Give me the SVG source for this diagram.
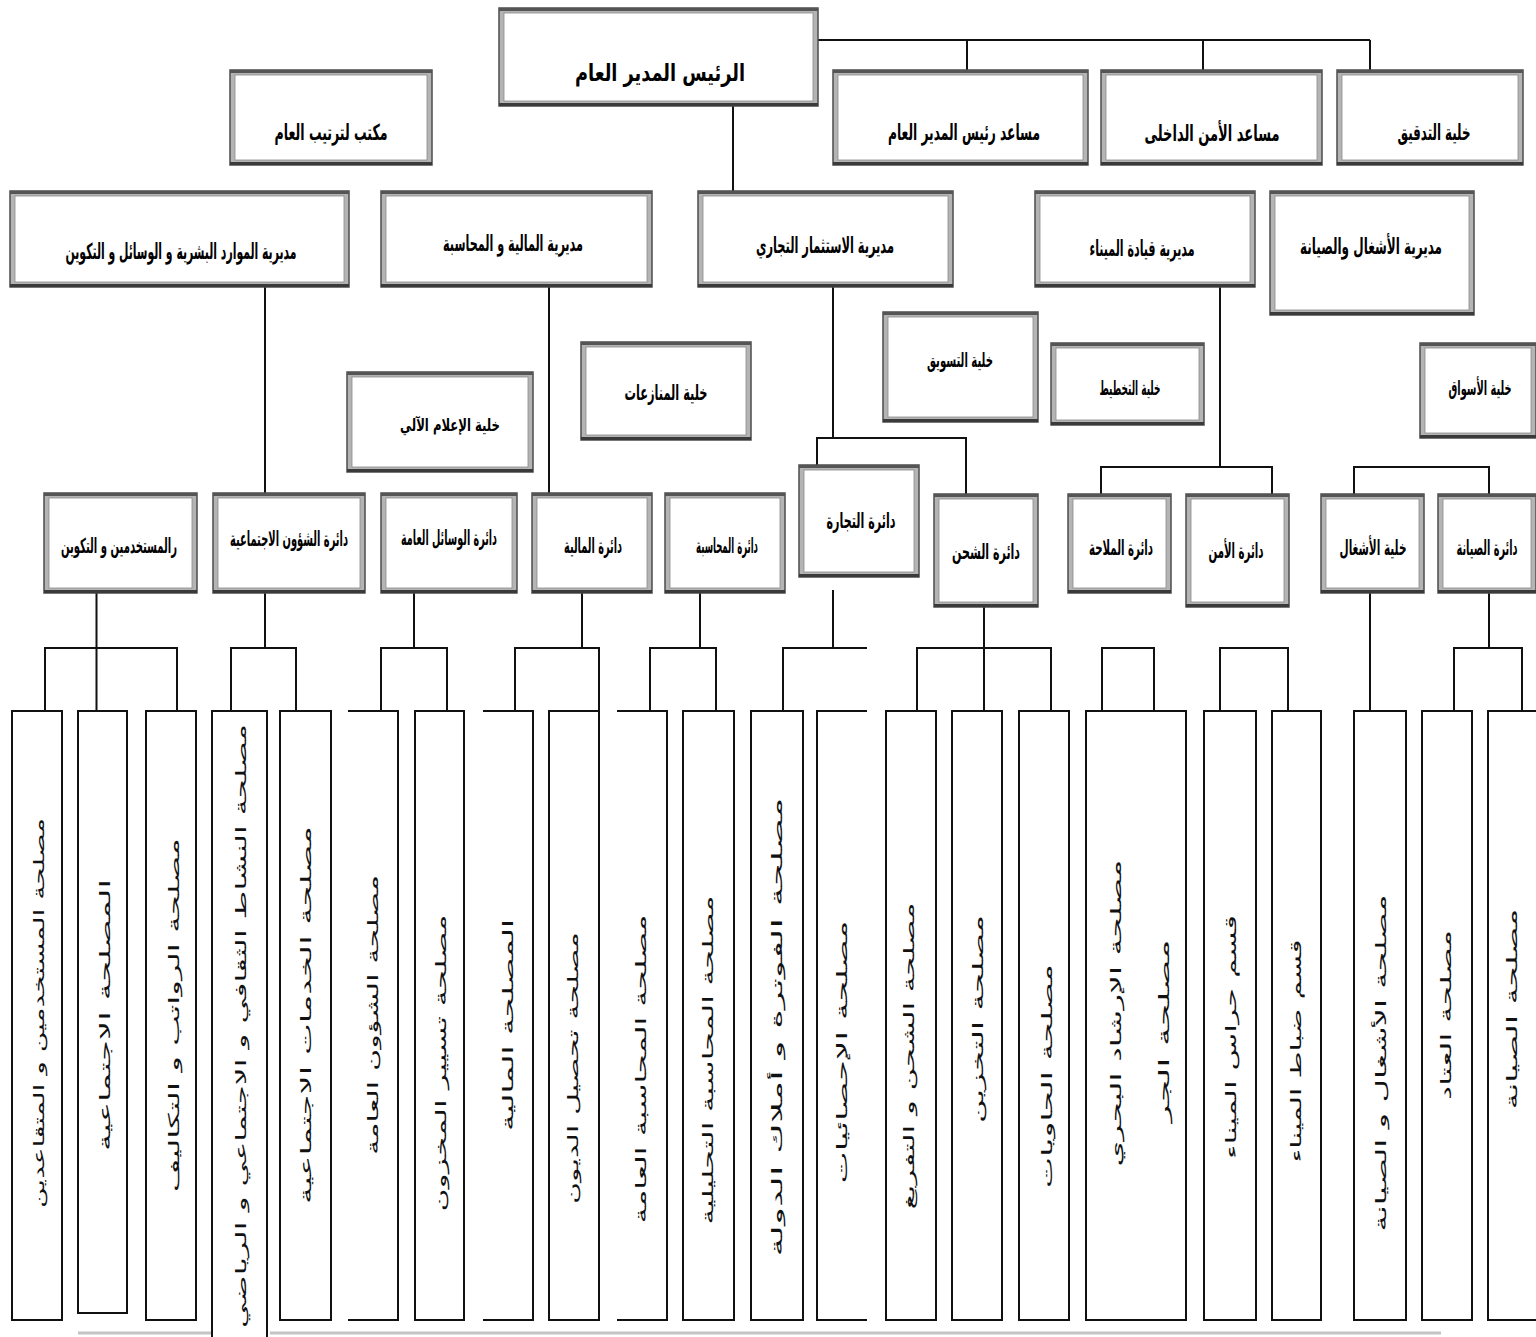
<svg xmlns="http://www.w3.org/2000/svg" width="1536" height="1337" viewBox="0 0 1536 1337">
<defs>
<style>
.fr{fill:#fff;stroke:#b4b4b4;stroke-width:5}
.ol{fill:none;stroke:#4c4c4c;stroke-width:1.5}
.il{fill:none;stroke:#8a8a8a;stroke-width:0.8}
.tb{fill:#555}
.bb{fill:#3a3a3a}
.t{font-family:'DejaVu Sans',sans-serif;font-weight:bold;fill:#000;text-anchor:middle}
.v{font-family:'DejaVu Sans',sans-serif;font-size:15px;fill:#111;text-anchor:middle}
.sb{fill:#fff;stroke:#111;stroke-width:2}
.sl{fill:none;stroke:#111;stroke-width:2}
.c{fill:none;stroke:#111;stroke-width:2}
</style>
</defs>
<rect width="1536" height="1337" fill="#fff"/>

<g id="connectors">
<path class="c" d="M818 40 H1370 M967 40 V70 M1203 40 V70 M1370 40 V70"/>
<path class="c" d="M733 106 V191"/>
<path class="c" d="M265 287 V493 M549 287 V493"/>
<path class="c" d="M833 287 V438 M817 465 V438 H966 V494"/>
<path class="c" d="M1220 287 V467 M1101 494 V467 H1272 V494"/>
<path class="c" d="M1354 494 V467 H1489 V494"/>
<path class="c" d="M96.5 593 V711 M45 711 V648 H177 V711"/>
<path class="c" d="M265 593 V648 M231 711 V648 H296 V711"/>
<path class="c" d="M414 593 V648 M381 711 V648 H447 V711"/>
<path class="c" d="M582 593 V648 M515 711 V648 H599 V711"/>
<path class="c" d="M700 593 V648 M650 711 V648 H716 V711"/>
<path class="c" d="M833 590 V648 M783 711 V648 H867"/>
<path class="c" d="M984 607 V711 M917 711 V648 H1051 V711"/>
<path class="c" d="M1102 711 V648 H1154 V711"/>
<path class="c" d="M1220 711 V648 H1288 V711"/>
<path class="c" d="M1370 593 V711"/>
<path class="c" d="M1489 593 V648 M1454 711 V648 H1522 V711"/>
</g>

<g id="president"><rect class="fr" x="501.5" y="10.5" width="314" height="93"/><rect class="il" x="504" y="13" width="309" height="88"/><rect class="ol" x="499" y="8" width="319" height="98"/><rect class="tb" x="499" y="8" width="319" height="3"/><rect class="bb" x="499" y="103" width="319" height="3"/><text class="t" transform="translate(660 81) scale(1 1.4)" font-size="17" textLength="170" lengthAdjust="spacingAndGlyphs">الرئيس المدير العام</text></g>
<g id="maktab"><rect class="fr" x="232.5" y="72.5" width="197" height="90"/><rect class="il" x="235" y="75" width="192" height="85"/><rect class="ol" x="230" y="70" width="202" height="95"/><rect class="tb" x="230" y="70" width="202" height="3"/><rect class="bb" x="230" y="162" width="202" height="3"/><text class="t" transform="translate(331 140) scale(1 1.7)" font-size="13" textLength="113" lengthAdjust="spacingAndGlyphs">مكتب لترتيب العام</text></g>
<g id="asst-dg"><rect class="fr" x="835.5" y="72.5" width="250" height="90"/><rect class="il" x="838" y="75" width="245" height="85"/><rect class="ol" x="833" y="70" width="255" height="95"/><rect class="tb" x="833" y="70" width="255" height="3"/><rect class="bb" x="833" y="162" width="255" height="3"/><text class="t" transform="translate(964 140) scale(1 1.7)" font-size="13" textLength="152" lengthAdjust="spacingAndGlyphs">مساعد رئيس المدير العام</text></g>
<g id="asst-sec"><rect class="fr" x="1103.5" y="72.5" width="216" height="90"/><rect class="il" x="1106" y="75" width="211" height="85"/><rect class="ol" x="1101" y="70" width="221" height="95"/><rect class="tb" x="1101" y="70" width="221" height="3"/><rect class="bb" x="1101" y="162" width="221" height="3"/><text class="t" transform="translate(1212 141) scale(1 1.57)" font-size="14" textLength="135" lengthAdjust="spacingAndGlyphs">مساعد الأمن الداخلى</text></g>
<g id="audit"><rect class="fr" x="1339.5" y="72.5" width="181" height="90"/><rect class="il" x="1342" y="75" width="176" height="85"/><rect class="ol" x="1337" y="70" width="186" height="95"/><rect class="tb" x="1337" y="70" width="186" height="3"/><rect class="bb" x="1337" y="162" width="186" height="3"/><text class="t" transform="translate(1434 140) scale(1 1.83)" font-size="12" textLength="73" lengthAdjust="spacingAndGlyphs">خلية التدقيق</text></g>

<g id="dir-hr"><rect class="fr" x="12.5" y="193.5" width="334" height="91"/><rect class="il" x="15" y="196" width="329" height="86"/><rect class="ol" x="10" y="191" width="339" height="96"/><rect class="tb" x="10" y="191" width="339" height="3"/><rect class="bb" x="10" y="284" width="339" height="3"/><text class="t" transform="translate(181 259) scale(1 2.1)" font-size="10.5" textLength="231" lengthAdjust="spacingAndGlyphs">مديرية الموارد البشرية و الوسائل و التكوين</text></g>
<g id="dir-fin"><rect class="fr" x="383.5" y="193.5" width="266" height="91"/><rect class="il" x="386" y="196" width="261" height="86"/><rect class="ol" x="381" y="191" width="271" height="96"/><rect class="tb" x="381" y="191" width="271" height="3"/><rect class="bb" x="381" y="284" width="271" height="3"/><text class="t" transform="translate(513 251) scale(1 2)" font-size="11" textLength="140" lengthAdjust="spacingAndGlyphs">مديرية المالية و المحاسبة</text></g>
<g id="dir-inv"><rect class="fr" x="700.5" y="193.5" width="250" height="91"/><rect class="il" x="703" y="196" width="245" height="86"/><rect class="ol" x="698" y="191" width="255" height="96"/><rect class="tb" x="698" y="191" width="255" height="3"/><rect class="bb" x="698" y="284" width="255" height="3"/><text class="t" transform="translate(825 253) scale(1 1.9)" font-size="11.5" textLength="138" lengthAdjust="spacingAndGlyphs">مديرية الاستثمار التجاري</text></g>
<g id="dir-port"><rect class="fr" x="1037.5" y="193.5" width="215" height="91"/><rect class="il" x="1040" y="196" width="210" height="86"/><rect class="ol" x="1035" y="191" width="220" height="96"/><rect class="tb" x="1035" y="191" width="220" height="3"/><rect class="bb" x="1035" y="284" width="220" height="3"/><text class="t" transform="translate(1142 256) scale(1 2.1)" font-size="10.5" textLength="105" lengthAdjust="spacingAndGlyphs">مديرية قيادة الميناء</text></g>
<g id="dir-works"><rect class="fr" x="1272.5" y="193.5" width="199" height="119"/><rect class="il" x="1275" y="196" width="194" height="114"/><rect class="ol" x="1270" y="191" width="204" height="124"/><rect class="tb" x="1270" y="191" width="204" height="3"/><rect class="bb" x="1270" y="312" width="204" height="3"/><text class="t" transform="translate(1371 254) scale(1 1.83)" font-size="12" textLength="142" lengthAdjust="spacingAndGlyphs">مديرية الأشغال والصيانة</text></g>

<g id="cell-it"><rect class="fr" x="349.5" y="374.5" width="181" height="95"/><rect class="il" x="352" y="377" width="176" height="90"/><rect class="ol" x="347" y="372" width="186" height="100"/><rect class="tb" x="347" y="372" width="186" height="3"/><rect class="bb" x="347" y="469" width="186" height="3"/><text class="t" transform="translate(450 431) scale(1 1.55)" font-size="11" textLength="100" lengthAdjust="spacingAndGlyphs">خلية الإعلام الآلي</text></g>
<g id="cell-litig"><rect class="fr" x="583.5" y="344.5" width="165" height="93"/><rect class="il" x="586" y="347" width="160" height="88"/><rect class="ol" x="581" y="342" width="170" height="98"/><rect class="tb" x="581" y="342" width="170" height="3"/><rect class="bb" x="581" y="437" width="170" height="3"/><text class="t" transform="translate(666 400) scale(1 1.83)" font-size="11.5" textLength="83" lengthAdjust="spacingAndGlyphs">خلية المنازعات</text></g>
<g id="cell-mkt"><rect class="fr" x="885.5" y="314.5" width="150" height="105"/><rect class="il" x="888" y="317" width="145" height="100"/><rect class="ol" x="883" y="312" width="155" height="110"/><rect class="tb" x="883" y="312" width="155" height="3"/><rect class="bb" x="883" y="419" width="155" height="3"/><text class="t" transform="translate(960 367) scale(1 1.8)" font-size="11" textLength="66" lengthAdjust="spacingAndGlyphs">خلية التسويق</text></g>
<g id="cell-plan"><rect class="fr" x="1053.5" y="345.5" width="148" height="77"/><rect class="il" x="1056" y="348" width="143" height="72"/><rect class="ol" x="1051" y="343" width="153" height="82"/><rect class="tb" x="1051" y="343" width="153" height="3"/><rect class="bb" x="1051" y="422" width="153" height="3"/><text class="t" transform="translate(1130 395) scale(1 2)" font-size="10" textLength="61" lengthAdjust="spacingAndGlyphs">خلية التخطيط</text></g>
<g id="cell-markets"><rect class="fr" x="1422.5" y="345.5" width="111" height="90"/><rect class="il" x="1425" y="348" width="106" height="85"/><rect class="ol" x="1420" y="343" width="116" height="95"/><rect class="tb" x="1420" y="343" width="116" height="3"/><rect class="bb" x="1420" y="435" width="116" height="3"/><text class="t" transform="translate(1480 395) scale(1 1.9)" font-size="10.5" textLength="63" lengthAdjust="spacingAndGlyphs">خلية الأسواق</text></g>

<g id="dept-staff"><rect class="fr" x="46.5" y="495.5" width="148" height="95"/><rect class="il" x="49" y="498" width="143" height="90"/><rect class="ol" x="44" y="493" width="153" height="100"/><rect class="tb" x="44" y="493" width="153" height="3"/><rect class="bb" x="44" y="590" width="153" height="3"/><text class="t" transform="translate(119 553) scale(1 1.9)" font-size="11" textLength="116" lengthAdjust="spacingAndGlyphs">رالمستخدمين و التكوين</text></g>
<g id="dept-social"><rect class="fr" x="215.5" y="495.5" width="147" height="95"/><rect class="il" x="218" y="498" width="142" height="90"/><rect class="ol" x="213" y="493" width="152" height="100"/><rect class="tb" x="213" y="493" width="152" height="3"/><rect class="bb" x="213" y="590" width="152" height="3"/><text class="t" transform="translate(289 546) scale(1 2.1)" font-size="10" textLength="118" lengthAdjust="spacingAndGlyphs">دائرة الشؤون الاجتماعية</text></g>
<g id="dept-means"><rect class="fr" x="383.5" y="495.5" width="131" height="95"/><rect class="il" x="386" y="498" width="126" height="90"/><rect class="ol" x="381" y="493" width="136" height="100"/><rect class="tb" x="381" y="493" width="136" height="3"/><rect class="bb" x="381" y="590" width="136" height="3"/><text class="t" transform="translate(449 545) scale(1 2.2)" font-size="9.5" textLength="96" lengthAdjust="spacingAndGlyphs">دائرة الوسائل العامة</text></g>
<g id="dept-fin"><rect class="fr" x="534.5" y="495.5" width="115" height="95"/><rect class="il" x="537" y="498" width="110" height="90"/><rect class="ol" x="532" y="493" width="120" height="100"/><rect class="tb" x="532" y="493" width="120" height="3"/><rect class="bb" x="532" y="590" width="120" height="3"/><text class="t" transform="translate(593 553) scale(1 2.33)" font-size="9" textLength="58" lengthAdjust="spacingAndGlyphs">دائرة المالية</text></g>
<g id="dept-acc"><rect class="fr" x="667.5" y="495.5" width="115" height="95"/><rect class="il" x="670" y="498" width="110" height="90"/><rect class="ol" x="665" y="493" width="120" height="100"/><rect class="tb" x="665" y="493" width="120" height="3"/><rect class="bb" x="665" y="590" width="120" height="3"/><text class="t" transform="translate(727 553) scale(1 2.33)" font-size="9" textLength="62" lengthAdjust="spacingAndGlyphs">دائرة المحاسبة</text></g>
<g id="dept-trade"><rect class="fr" x="801.5" y="467.5" width="115" height="107"/><rect class="il" x="804" y="470" width="110" height="102"/><rect class="ol" x="799" y="465" width="120" height="112"/><rect class="tb" x="799" y="465" width="120" height="3"/><rect class="bb" x="799" y="574" width="120" height="3"/><text class="t" transform="translate(861 528) scale(1 2)" font-size="10.5" textLength="69" lengthAdjust="spacingAndGlyphs">دائرة التجارة</text></g>
<g id="dept-ship"><rect class="fr" x="936.5" y="496.5" width="99" height="108"/><rect class="il" x="939" y="499" width="94" height="103"/><rect class="ol" x="934" y="494" width="104" height="113"/><rect class="tb" x="934" y="494" width="104" height="3"/><rect class="bb" x="934" y="604" width="104" height="3"/><text class="t" transform="translate(986 559) scale(1 1.75)" font-size="12" textLength="68" lengthAdjust="spacingAndGlyphs">دائرة الشحن</text></g>
<g id="dept-nav"><rect class="fr" x="1070.5" y="496.5" width="98" height="94"/><rect class="il" x="1073" y="499" width="93" height="89"/><rect class="ol" x="1068" y="494" width="103" height="99"/><rect class="tb" x="1068" y="494" width="103" height="3"/><rect class="bb" x="1068" y="590" width="103" height="3"/><text class="t" transform="translate(1121 555) scale(1 2.2)" font-size="9.5" textLength="64" lengthAdjust="spacingAndGlyphs">دائرة الملاحة</text></g>
<g id="dept-sec"><rect class="fr" x="1188.5" y="496.5" width="98" height="108"/><rect class="il" x="1191" y="499" width="93" height="103"/><rect class="ol" x="1186" y="494" width="103" height="113"/><rect class="tb" x="1186" y="494" width="103" height="3"/><rect class="bb" x="1186" y="604" width="103" height="3"/><text class="t" transform="translate(1236 558) scale(1 2.1)" font-size="10" textLength="55" lengthAdjust="spacingAndGlyphs">دائرة الأمن</text></g>
<g id="cell-works"><rect class="fr" x="1323.5" y="496.5" width="98" height="94"/><rect class="il" x="1326" y="499" width="93" height="89"/><rect class="ol" x="1321" y="494" width="103" height="99"/><rect class="tb" x="1321" y="494" width="103" height="3"/><rect class="bb" x="1321" y="590" width="103" height="3"/><text class="t" transform="translate(1373 555) scale(1 1.9)" font-size="11" textLength="67" lengthAdjust="spacingAndGlyphs">خلية الأشغال</text></g>
<g id="dept-maint"><rect class="fr" x="1440.5" y="496.5" width="93" height="94"/><rect class="il" x="1443" y="499" width="88" height="89"/><rect class="ol" x="1438" y="494" width="98" height="99"/><rect class="tb" x="1438" y="494" width="98" height="3"/><rect class="bb" x="1438" y="590" width="98" height="3"/><text class="t" transform="translate(1487 555) scale(1 2.2)" font-size="9.5" textLength="61" lengthAdjust="spacingAndGlyphs">دائرة الصيانة</text></g>

<g id="s1"><rect class="sb" x="12" y="711" width="50" height="609"/><text class="v" transform="translate(44 1013) rotate(-90)" textLength="390" lengthAdjust="spacingAndGlyphs">مصلحة المستخدمين و المتقاعدين</text></g>
<g id="s2"><rect class="sb" x="78" y="711" width="49" height="602"/><text class="v" transform="translate(110 1015) rotate(-90)" textLength="272" lengthAdjust="spacingAndGlyphs">المصلحة الاجتماعية</text></g>
<g id="s3"><rect class="sb" x="146" y="711" width="50" height="609"/><text class="v" transform="translate(179 1015) rotate(-90)" textLength="354" lengthAdjust="spacingAndGlyphs">مصلحة الرواتب و التكاليف</text></g>
<g id="s4"><path class="sl" d="M212 1340 V711 H267 V1340"/><text class="v" transform="translate(246 1026) rotate(-90)" textLength="604" lengthAdjust="spacingAndGlyphs">مصلحة النشاط الثقافي و الاجتماعي و الرياضي</text></g>
<g id="s5"><rect class="sb" x="280" y="711" width="51" height="609"/><text class="v" transform="translate(311 1015) rotate(-90)" textLength="378" lengthAdjust="spacingAndGlyphs">مصلحة الخدمات الاجتماعية</text></g>
<g id="s6"><path class="sl" d="M348 711 H398 V1320 H348"/><text class="v" transform="translate(378 1015) rotate(-90)" textLength="280" lengthAdjust="spacingAndGlyphs">مصلحة الشؤون العامة</text></g>
<g id="s7"><rect class="sb" x="415" y="711" width="49" height="609"/><text class="v" transform="translate(446 1063) rotate(-90)" textLength="297" lengthAdjust="spacingAndGlyphs">مصلحة تسيير المخزون</text></g>
<g id="s8"><path class="sl" d="M483 711 H533 V1320 H483"/><text class="v" transform="translate(513 1025) rotate(-90)" textLength="212" lengthAdjust="spacingAndGlyphs">المصلحة المالية</text></g>
<g id="s9"><rect class="sb" x="549" y="711" width="50" height="609"/><text class="v" transform="translate(578 1068) rotate(-90)" textLength="272" lengthAdjust="spacingAndGlyphs">مصلحة تحصيل الديون</text></g>
<g id="s10"><path class="sl" d="M617 711 H667 V1320 H617"/><text class="v" transform="translate(646 1069) rotate(-90)" textLength="309" lengthAdjust="spacingAndGlyphs">مصلحة المحاسبة العامة</text></g>
<g id="s11"><rect class="sb" x="683" y="711" width="51" height="609"/><text class="v" transform="translate(713 1060) rotate(-90)" textLength="329" lengthAdjust="spacingAndGlyphs">مصلحة المحاسبة التحليلية</text></g>
<g id="s12"><rect class="sb" x="751" y="711" width="52" height="609"/><text class="v" transform="translate(782 1027) rotate(-90)" textLength="459" lengthAdjust="spacingAndGlyphs">مصلحة الفوترة و أملاك الدولة</text></g>
<g id="s13"><path class="sl" d="M867 711 H817 V1320 H867"/><text class="v" transform="translate(847 1052) rotate(-90)" textLength="263" lengthAdjust="spacingAndGlyphs">مصلحة الإحصائيات</text></g>
<g id="s14"><rect class="sb" x="886" y="711" width="50" height="609"/><text class="v" transform="translate(914 1056) rotate(-90)" textLength="307" lengthAdjust="spacingAndGlyphs">مصلحة الشحن و التفريغ</text></g>
<g id="s15"><rect class="sb" x="952" y="711" width="50" height="609"/><text class="v" transform="translate(983 1019) rotate(-90)" textLength="208" lengthAdjust="spacingAndGlyphs">مصلحة التخزين</text></g>
<g id="s16"><rect class="sb" x="1019" y="711" width="50" height="609"/><text class="v" transform="translate(1052 1076) rotate(-90)" textLength="224" lengthAdjust="spacingAndGlyphs">مصلحة الحاويات</text></g>
<g id="s17"><rect class="sb" x="1086" y="711" width="100" height="609"/><text class="v" transform="translate(1121 1013) rotate(-90)" textLength="307" lengthAdjust="spacingAndGlyphs">مصلحة الإرشاد البحري</text><text class="v" transform="translate(1169 1031) rotate(-90)" textLength="183" lengthAdjust="spacingAndGlyphs">مصلحة الجر</text></g>
<g id="s18"><rect class="sb" x="1204" y="711" width="52" height="609"/><text class="v" transform="translate(1236 1037) rotate(-90)" textLength="244" lengthAdjust="spacingAndGlyphs">قسم حراس الميناء</text></g>
<g id="s19"><rect class="sb" x="1272" y="711" width="49" height="609"/><text class="v" transform="translate(1301 1051) rotate(-90)" textLength="223" lengthAdjust="spacingAndGlyphs">قسم ضباط الميناء</text></g>
<g id="s20"><rect class="sb" x="1354" y="711" width="52" height="609"/><text class="v" transform="translate(1386 1063) rotate(-90)" textLength="337" lengthAdjust="spacingAndGlyphs">مصلحة الأشغال و الصيانة</text></g>
<g id="s21"><rect class="sb" x="1422" y="711" width="50" height="609"/><text class="v" transform="translate(1451 1015) rotate(-90)" textLength="170" lengthAdjust="spacingAndGlyphs">مصلحة العتاد</text></g>
<g id="s22"><rect class="sb" x="1488" y="711" width="56" height="609"/><text class="v" transform="translate(1517 1009) rotate(-90)" textLength="201" lengthAdjust="spacingAndGlyphs">مصلحة الصيانة</text></g>

<path d="M78 1333 H211 M270 1333 H1441" fill="none" stroke="#c4c4c4" stroke-width="3"/>
</svg>
